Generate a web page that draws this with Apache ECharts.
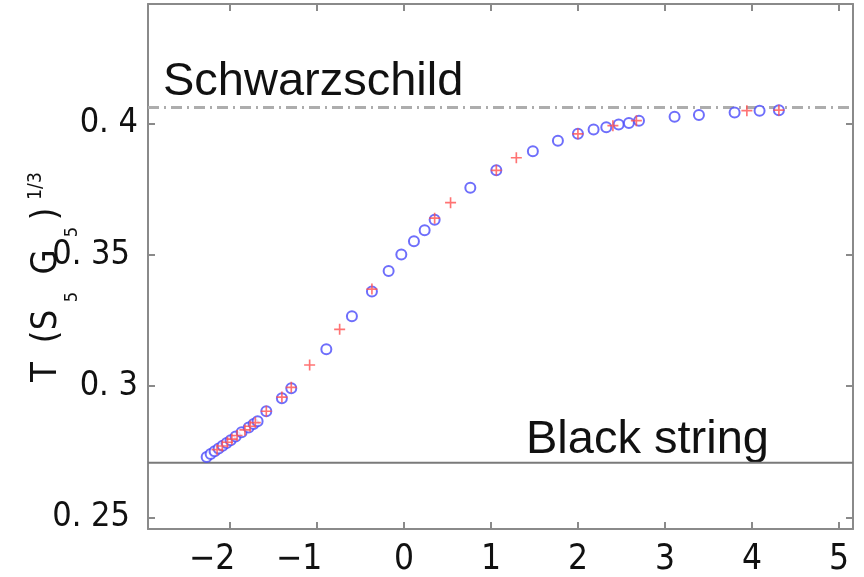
<!DOCTYPE html>
<html>
<head>
<meta charset="utf-8">
<script src="https://cdn.jsdelivr.net/npm/echarts@6/dist/echarts.min.js"></script>
<style>
html,body{margin:0;padding:0;background:#fff;}
#chart{width:864px;height:577px;}
</style>
</head>
<body>
<div id="chart"></div>
<script>
// ---- data ----
const xLim = [-2.944, 5.16];
const yLim = [0.2456, 0.4454];
const xTicks = [-2, -1, 0, 1, 2, 3, 4, 5];
const yTicks = [0.25, 0.3, 0.35, 0.4];

const circleX = [-2.270, -2.224, -2.178, -2.132, -2.086, -2.040, -1.994, -1.937, -1.868, -1.787, -1.730, -1.684,
  -1.584, -1.405, -1.297, -0.894, -0.600, -0.370, -0.178, -0.032, 0.113, 0.236, 0.351, 0.761, 1.060, 1.480,
  1.768, 1.998, 2.178, 2.324, 2.466, 2.584, 2.700, 3.109, 3.389, 3.799, 4.086, 4.308];
const circleY = [0.2730, 0.2741, 0.2752, 0.2762, 0.2773, 0.2783, 0.2794, 0.2808, 0.2824, 0.2842, 0.2856, 0.2866,
  0.2904, 0.2954, 0.2992, 0.3140, 0.3266, 0.3360, 0.3438, 0.3501, 0.3551, 0.3593, 0.3633, 0.3755, 0.3821, 0.3894,
  0.3934, 0.3960, 0.3976, 0.3985, 0.3995, 0.4001, 0.4010, 0.4025, 0.4032, 0.4041, 0.4048, 0.4050];

const crossX = [-2.15, -2.09, -2.03, -1.98, -1.92, -1.83, -1.77, -1.71, -1.584, -1.405, -1.297, -1.086, -0.741,
  -0.370, 0.351, 0.534, 1.060, 1.290, 1.998, 2.400, 2.670, 3.940, 4.308];
const crossY = [0.2758, 0.2772, 0.2786, 0.2798, 0.2812, 0.2833, 0.2847, 0.2861, 0.2904, 0.2958, 0.2995, 0.3080, 0.3216,
  0.3369, 0.3639, 0.3698, 0.3821, 0.3869, 0.3960, 0.3991, 0.4010, 0.4048, 0.4050];

const schwarzschildT = 0.406;
const blackStringT = 0.2708;
const schwarzschildLabel = 'Schwarzschild';
const blackStringLabel = 'Black string';

// ---- chart ----
const zip = (a, b) => a.map((v, i) => [v, b[i]]);
const narrow = "'Liberation Sans Narrow', 'DejaVu Sans Condensed', 'Liberation Sans', sans-serif";
const boxColor = '#8a8a8a';

function xAxisCfg(pos, showLabel) {
  return {
    type: 'value', position: pos, min: xLim[0], max: xLim[1],
    axisLine: { show: true, onZero: false, lineStyle: { color: boxColor, width: 2 } },
    axisTick: { show: true, inside: true, length: 7, customValues: xTicks, lineStyle: { color: boxColor, width: 2 } },
    axisLabel: {
      show: showLabel, customValues: xTicks, margin: 13,
      fontFamily: narrow, fontSize: 35, color: '#111',
      formatter: v => v < 0 ? '{neg|\u2212' + Math.abs(v) + '}' : String(v),
      rich: { neg: { fontFamily: narrow, fontSize: 35, color: '#111', padding: [0, 36, 0, 0] } }
    },
    splitLine: { show: false }
  };
}
function yAxisCfg(pos, showLabel) {
  return {
    type: 'value', position: pos, min: yLim[0], max: yLim[1],
    axisLine: { show: true, onZero: false, lineStyle: { color: boxColor, width: 2 } },
    axisTick: { show: true, inside: true, length: 7, customValues: yTicks, lineStyle: { color: boxColor, width: 2 } },
    axisLabel: {
      show: showLabel, customValues: yTicks, margin: 10,
      fontFamily: narrow, fontSize: 34, color: '#111',
      formatter: v => {
        const s = String(+v.toFixed(2)).replace('.', '. ');
        return s.length > 4 ? '{two|' + s + '}' : s;
      },
      rich: { two: { fontFamily: narrow, fontSize: 34, color: '#111', padding: [0, 8, 0, 0] } }
    },
    splitLine: { show: false }
  };
}

const chart = echarts.init(document.getElementById('chart'), null, { renderer: 'canvas' });

const ylabelPieces = [
  { t: 'T', x: 47, y: 372, s: 36 },
  { t: '(', x: 47, y: 337, s: 36 },
  { t: 'S', x: 47, y: 320, s: 36 },
  { t: '5', x: 72, y: 297, s: 18 },
  { t: 'G', x: 47, y: 262, s: 36 },
  { t: '5', x: 72, y: 232, s: 18 },
  { t: ')', x: 47, y: 214, s: 36 },
  { t: '1/3', x: 36, y: 186, s: 19 }
];

const option = {
  animation: false,
  backgroundColor: '#fff',
  grid: { left: 148, right: 11, top: 4, bottom: 43, containLabel: false },
  xAxis: [xAxisCfg('bottom', true), xAxisCfg('top', false)],
  yAxis: [yAxisCfg('left', true), yAxisCfg('right', false)],
  series: [
    {
      type: 'line', name: 'Black string', data: [[xLim[0], blackStringT], [xLim[1], blackStringT]],
      symbol: 'none', lineStyle: { color: '#7a7a7a', width: 2 }, silent: true, z: 1
    },
    {
      type: 'line', name: 'Schwarzschild', data: [[xLim[0], schwarzschildT], [xLim[1], schwarzschildT]],
      symbol: 'none', lineStyle: { color: '#adadad', width: 3, type: [11, 5, 2, 5] }, silent: true, z: 1
    },
    {
      type: 'scatter', name: 'circles', data: zip(circleX, circleY),
      symbol: 'emptyCircle', symbolSize: 10,
      itemStyle: { color: '#4a4afa', borderColor: '#4a4afa', borderWidth: 2 }, z: 2
    },
    {
      type: 'scatter', name: 'crosses', data: zip(crossX, crossY),
      symbol: 'path://M3.4,0 H4.6 V3.4 H8 V4.6 H4.6 V8 H3.4 V4.6 H0 V3.4 H3.4 Z', symbolSize: 11,
      itemStyle: { color: '#ff5050' }, z: 3
    }
  ],
  graphic: [
    {
      type: 'text', left: 163, top: 59,
      style: { text: schwarzschildLabel, fontFamily: "'Liberation Sans', Arial, sans-serif", fontSize: 47, fill: '#111' }
    },
    {
      type: 'text', left: 526, top: 417,
      style: { text: blackStringLabel, fontFamily: "'Liberation Sans', Arial, sans-serif", fontSize: 47, fill: '#111' }
    }
  ].concat(ylabelPieces.map(p => ({
    type: 'text', x: p.x, y: p.y, rotation: Math.PI / 2,
    style: { text: p.t, fontFamily: narrow, fontSize: p.s, fill: '#111', align: 'center', verticalAlign: 'middle' }
  })))
};
chart.setOption(option);
</script>
</body>
</html>
